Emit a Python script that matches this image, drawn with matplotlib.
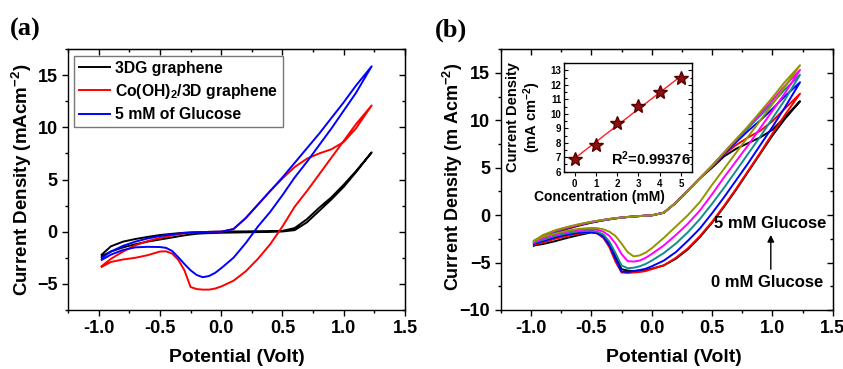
import numpy as np
import matplotlib.pyplot as plt
from matplotlib.ticker import MultipleLocator

plt.rcParams['font.family'] = ['Liberation Sans', 'DejaVu Sans']
plt.rcParams['font.weight'] = 'bold'
plt.rcParams['axes.labelweight'] = 'bold'
plt.rcParams['mathtext.fontset'] = 'custom'
plt.rcParams['mathtext.rm'] = 'Liberation Sans:bold'
plt.rcParams['mathtext.bf'] = 'Liberation Sans:bold'
plt.rcParams['mathtext.default'] = 'bf'

# Grilles de potentiel (V) : balayage aller puis retour
v_aller = [-0.975, -0.9, -0.8, -0.7, -0.6, -0.5, -0.4, -0.3, -0.2, -0.1, 0.0, 0.1,
           0.2, 0.3, 0.4, 0.5, 0.6, 0.7, 0.8, 0.9, 1.0, 1.1, 1.228]
v_retour = [1.228, 1.1, 1.0, 0.9, 0.8, 0.7, 0.6, 0.5, 0.4, 0.3, 0.2, 0.1, 0.0, -0.05,
            -0.1, -0.15, -0.2, -0.25, -0.3, -0.35, -0.4, -0.45, -0.5, -0.6, -0.7, -0.8,
            -0.9, -0.975]

# Panneau (a)
a_3dg_aller = [-2.2, -1.4, -0.95, -0.7, -0.5, -0.32, -0.2, -0.1, -0.05, -0.02, 0.0, 0.02,
               0.03, 0.05, 0.06, 0.08, 0.35, 1.2, 2.3, 3.3, 4.5, 5.8, 7.6]
a_3dg_retour = [7.6, 5.7, 4.3, 3.1, 2.0, 0.9, 0.15, 0.02, -0.02, -0.04, -0.06, -0.08, -0.1,
                -0.12, -0.14, -0.16, -0.2, -0.27, -0.35, -0.45, -0.55, -0.65, -0.75, -0.95,
                -1.2, -1.5, -1.9, -2.35]
a_co_aller = [-3.3, -2.6, -1.9, -1.3, -0.9, -0.6, -0.35, -0.15, -0.06, -0.02, 0.0, 0.25,
              1.3, 2.6, 3.9, 5.1, 6.2, 7.0, 7.5, 7.9, 8.6, 9.9, 12.1]
a_co_retour = [12.1, 10.3, 8.7, 7.1, 5.5, 3.9, 2.4, 0.5, -1.2, -2.6, -3.8, -4.7, -5.25,
               -5.45, -5.55, -5.55, -5.5, -5.3, -3.7, -2.7, -2.1, -1.88, -1.9, -2.25, -2.5,
               -2.66, -2.9, -3.37]
a_glu_aller = [-2.5, -1.9, -1.35, -0.95, -0.65, -0.42, -0.25, -0.12, -0.05, -0.02, 0.0, 0.25,
               1.3, 2.6, 3.9, 5.2, 6.6, 8.0, 9.4, 10.9, 12.4, 14.0, 15.85]
a_glu_retour = [15.85, 13.3, 11.6, 9.9, 8.3, 6.7, 5.2, 3.5, 1.9, 0.5, -1.1, -2.5, -3.5,
                -3.95, -4.25, -4.36, -4.15, -3.7, -3.1, -2.45, -1.85, -1.55, -1.47, -1.45,
                -1.5, -1.75, -2.2, -2.7]

# Panneau (b) : 0 a 5 mM de glucose
b_aller = {
    'black': [-3.2, -2.5, -1.9, -1.45, -1.1, -0.8, -0.55, -0.35, -0.2, -0.1, -0.03, 0.25,
              1.3, 2.6, 3.9, 5.0, 6.2, 7.0, 7.6, 8.2, 9.0, 10.3, 12.0],
    'red': [-3.1, -2.4, -1.8, -1.4, -1.05, -0.77, -0.54, -0.34, -0.2, -0.1, -0.03, 0.25,
            1.3, 2.6, 3.9, 5.1, 6.4, 7.4, 8.2, 8.9, 9.9, 11.2, 12.8],
    'blue': [-3.0, -2.3, -1.75, -1.35, -1.02, -0.75, -0.53, -0.33, -0.2, -0.1, -0.03, 0.25,
             1.3, 2.6, 3.9, 5.2, 6.5, 7.7, 8.9, 10.0, 11.2, 12.5, 14.0],
    'teal': [-2.9, -2.2, -1.7, -1.32, -1.0, -0.73, -0.52, -0.33, -0.2, -0.1, -0.03, 0.25,
             1.3, 2.6, 3.9, 5.2, 6.6, 7.9, 9.2, 10.5, 11.8, 13.2, 14.8],
    'magenta': [-2.8, -2.15, -1.65, -1.3, -1.0, -0.72, -0.5, -0.32, -0.2, -0.1, -0.03, 0.25,
                1.3, 2.6, 3.9, 5.2, 6.6, 8.0, 9.3, 10.7, 12.1, 13.6, 15.3],
    'olive': [-2.7, -2.1, -1.6, -1.25, -0.95, -0.7, -0.5, -0.32, -0.2, -0.1, -0.03, 0.25,
              1.3, 2.6, 3.9, 5.2, 6.6, 8.0, 9.4, 10.9, 12.4, 14.0, 15.8],
}
b_retour = {
    'black': [12.0, 10.1, 8.4, 6.5, 4.6, 2.7, 0.9, -0.8, -2.3, -3.6, -4.6, -5.3, -5.65, -5.8,
              -5.85, -5.9, -5.85, -5.7, -4.3, -3.0, -2.2, -1.9, -1.83, -2.1, -2.4, -2.75,
              -3.05, -3.2],
    'red': [12.8, 10.5, 8.6, 6.6, 4.7, 2.8, 1.0, -0.7, -2.2, -3.5, -4.5, -5.3, -5.7, -5.9,
            -6.0, -6.05, -6.1, -6.05, -4.9, -3.4, -2.4, -1.95, -1.8, -1.95, -2.2, -2.5,
            -2.9, -3.1],
    'blue': [14.0, 11.3, 9.3, 7.4, 5.5, 3.7, 1.9, 0.2, -1.4, -2.7, -3.9, -4.8, -5.4, -5.65,
             -5.8, -5.9, -6.0, -5.95, -4.6, -3.2, -2.3, -1.9, -1.8, -1.85, -2.05, -2.35,
             -2.75, -3.0],
    'teal': [14.8, 12.1, 10.2, 8.3, 6.5, 4.7, 2.9, 1.2, -0.4, -1.8, -3.0, -4.0, -4.8, -5.15,
             -5.4, -5.55, -5.6, -5.3, -4.0, -2.8, -2.05, -1.75, -1.65, -1.7, -1.9, -2.2,
             -2.6, -2.9],
    'magenta': [15.3, 12.8, 11.0, 9.2, 7.4, 5.7, 4.0, 2.2, 0.5, -0.9, -2.1, -3.2, -4.1, -4.5,
                -4.8, -4.9, -4.85, -4.1, -3.0, -2.2, -1.75, -1.55, -1.5, -1.55, -1.75,
                -2.05, -2.45, -2.8],
    'olive': [15.8, 13.5, 11.7, 10.0, 8.3, 6.6, 4.9, 3.2, 1.4, 0.0, -1.2, -2.4, -3.5, -3.95,
              -4.25, -4.35, -3.9, -3.0, -2.2, -1.75, -1.5, -1.38, -1.35, -1.45, -1.65,
              -1.95, -2.3, -2.7],
}
couleurs_b = {'black': 'black', 'red': '#ff0000', 'blue': '#0000ff', 'teal': '#128c8c',
              'magenta': '#ff00ff', 'olive': '#949400'}

# Encart : courant vs concentration
conc = [0, 1, 2, 3, 4, 5]
courant = [6.9, 7.85, 9.35, 10.55, 11.5, 12.45]


def style_axes(ax, ymin, ymax):
    ax.set_xlim(-1.25, 1.5)
    ax.set_ylim(ymin, ymax)
    ax.xaxis.set_major_locator(MultipleLocator(0.5))
    ax.xaxis.set_minor_locator(MultipleLocator(0.25))
    ax.yaxis.set_major_locator(MultipleLocator(5))
    ax.yaxis.set_minor_locator(MultipleLocator(2.5))
    ax.xaxis.set_major_formatter(plt.FuncFormatter(lambda v, p: f"{v:.1f}"))
    ax.tick_params(which='both', direction='out', width=1.0, labelsize=13)
    ax.tick_params(which='major', length=4)
    ax.tick_params(which='minor', length=2.5)
    for s in ax.spines.values():
        s.set_linewidth(1.0)
    # ticks miroirs vers l'interieur
    sec_x = ax.secondary_xaxis('top')
    sec_x.xaxis.set_major_locator(MultipleLocator(0.5))
    sec_x.xaxis.set_minor_locator(MultipleLocator(0.25))
    sec_x.tick_params(which='both', direction='in', labeltop=False, width=1.0)
    sec_x.tick_params(which='major', length=4)
    sec_x.tick_params(which='minor', length=2.5)
    sec_y = ax.secondary_yaxis('right')
    sec_y.yaxis.set_major_locator(MultipleLocator(5))
    sec_y.yaxis.set_minor_locator(MultipleLocator(2.5))
    sec_y.tick_params(which='both', direction='in', labelright=False, width=1.0)
    sec_y.tick_params(which='major', length=4)
    sec_y.tick_params(which='minor', length=2.5)


fig = plt.figure(figsize=(8.43, 3.69), dpi=100)
ax1 = fig.add_axes([0.0807, 0.160, 0.3997, 0.707])
ax2 = fig.add_axes([0.594, 0.160, 0.394, 0.707])

# (a)
ax1.plot(v_aller + v_retour, a_3dg_aller + a_3dg_retour, color='black', lw=1.4,
         label='3DG graphene')
ax1.plot(v_aller + v_retour, a_co_aller + a_co_retour, color='#ff0000', lw=1.4,
         label='Co(OH)$_2$/3D graphene')
ax1.plot(v_aller + v_retour, a_glu_aller + a_glu_retour, color='#0000ff', lw=1.4,
         label='5 mM of Glucose')
style_axes(ax1, -7.5, 17.5)
ax1.set_xlabel('Potential (Volt)', fontsize=14)
ax1.set_ylabel('Current Density (mAcm$^{-2}$)', fontsize=13.5)
ax1.xaxis.set_label_coords(0.5, -0.184)
ax1.yaxis.set_label_coords(-0.137, 0.498)
ax1.xaxis.label.set_va('center')
ax1.yaxis.label.set_va('center')
leg = ax1.legend(loc='upper left', bbox_to_anchor=(0.018, 0.974), borderaxespad=0,
                 fancybox=False, edgecolor='#777777', framealpha=1, handlelength=2.0,
                 handletextpad=0.3, borderpad=0.3, labelspacing=0.4,
                 prop={'weight': 'bold', 'size': 11.3})
leg.get_frame().set_linewidth(1.0)

# (b)
for k in b_aller:
    ax2.plot(v_aller + v_retour, b_aller[k] + b_retour[k], color=couleurs_b[k], lw=1.4)
style_axes(ax2, -10, 17.5)
ax2.set_xlabel('Potential (Volt)', fontsize=14)
ax2.set_ylabel('Current Density (m Acm$^{-2}$)', fontsize=13)
ax2.xaxis.set_label_coords(0.52, -0.184)
ax2.yaxis.set_label_coords(-0.144, 0.508)
ax2.xaxis.label.set_va('center')
ax2.yaxis.label.set_va('center')
ax2.text(0.98, -0.85, '5 mM Glucose', fontsize=12, ha='center', va='center')
ax2.text(0.955, -7.07, '0 mM Glucose', fontsize=12, ha='center', va='center')
ax2.annotate('', xy=(0.986, -1.8), xytext=(0.986, -6.0),
             arrowprops=dict(arrowstyle='-|>', color='black', lw=1.0, mutation_scale=10))

# Encart
ins = fig.add_axes([0.669, 0.5347, 0.1515, 0.294])
pente, origine = np.polyfit(conc, courant, 1)
ins.plot([0, 5], [origine, origine + 5 * pente], color='#ff2020', lw=1.0)
ins.plot(conc, courant, ls='none', marker='*', ms=10, color='#8b1010', mec='#5a0000')
ins.set_xlim(-0.5, 5.5)
ins.set_ylim(6, 13.5)
ins.xaxis.set_major_locator(MultipleLocator(1))
ins.yaxis.set_major_locator(MultipleLocator(1))
ins.yaxis.set_minor_locator(MultipleLocator(0.5))
ins.tick_params(which='both', direction='in', right=True, labelsize=7, width=0.8, pad=2)
ins.tick_params(axis='x', direction='out')
ins.tick_params(which='major', length=3)
ins.tick_params(which='minor', length=1.8)
for s in ins.spines.values():
    s.set_linewidth(1.0)
ins.set_xlabel('Concentration (mM)', fontsize=10)
ins.set_ylabel('Current Density\n(mA cm$^{-2}$)', fontsize=10.5, linespacing=1.1)
ins.xaxis.set_label_coords(0.274, -0.233)
ins.yaxis.set_label_coords(-0.31, 0.5)
ins.xaxis.label.set_va('center')
ins.yaxis.label.set_va('center')
ins.text(0.99, 0.12, 'R$^2$=0.99376', transform=ins.transAxes, fontsize=10.5,
         ha='right', va='center')

fig.text(0.012, 0.919, '(a)', family='Liberation Serif', weight='bold', fontsize=19,
         va='center')
fig.text(0.516, 0.919, '(b)', family='Liberation Serif', weight='bold', fontsize=19,
         va='center')

fig.savefig('out.png', dpi=100)
